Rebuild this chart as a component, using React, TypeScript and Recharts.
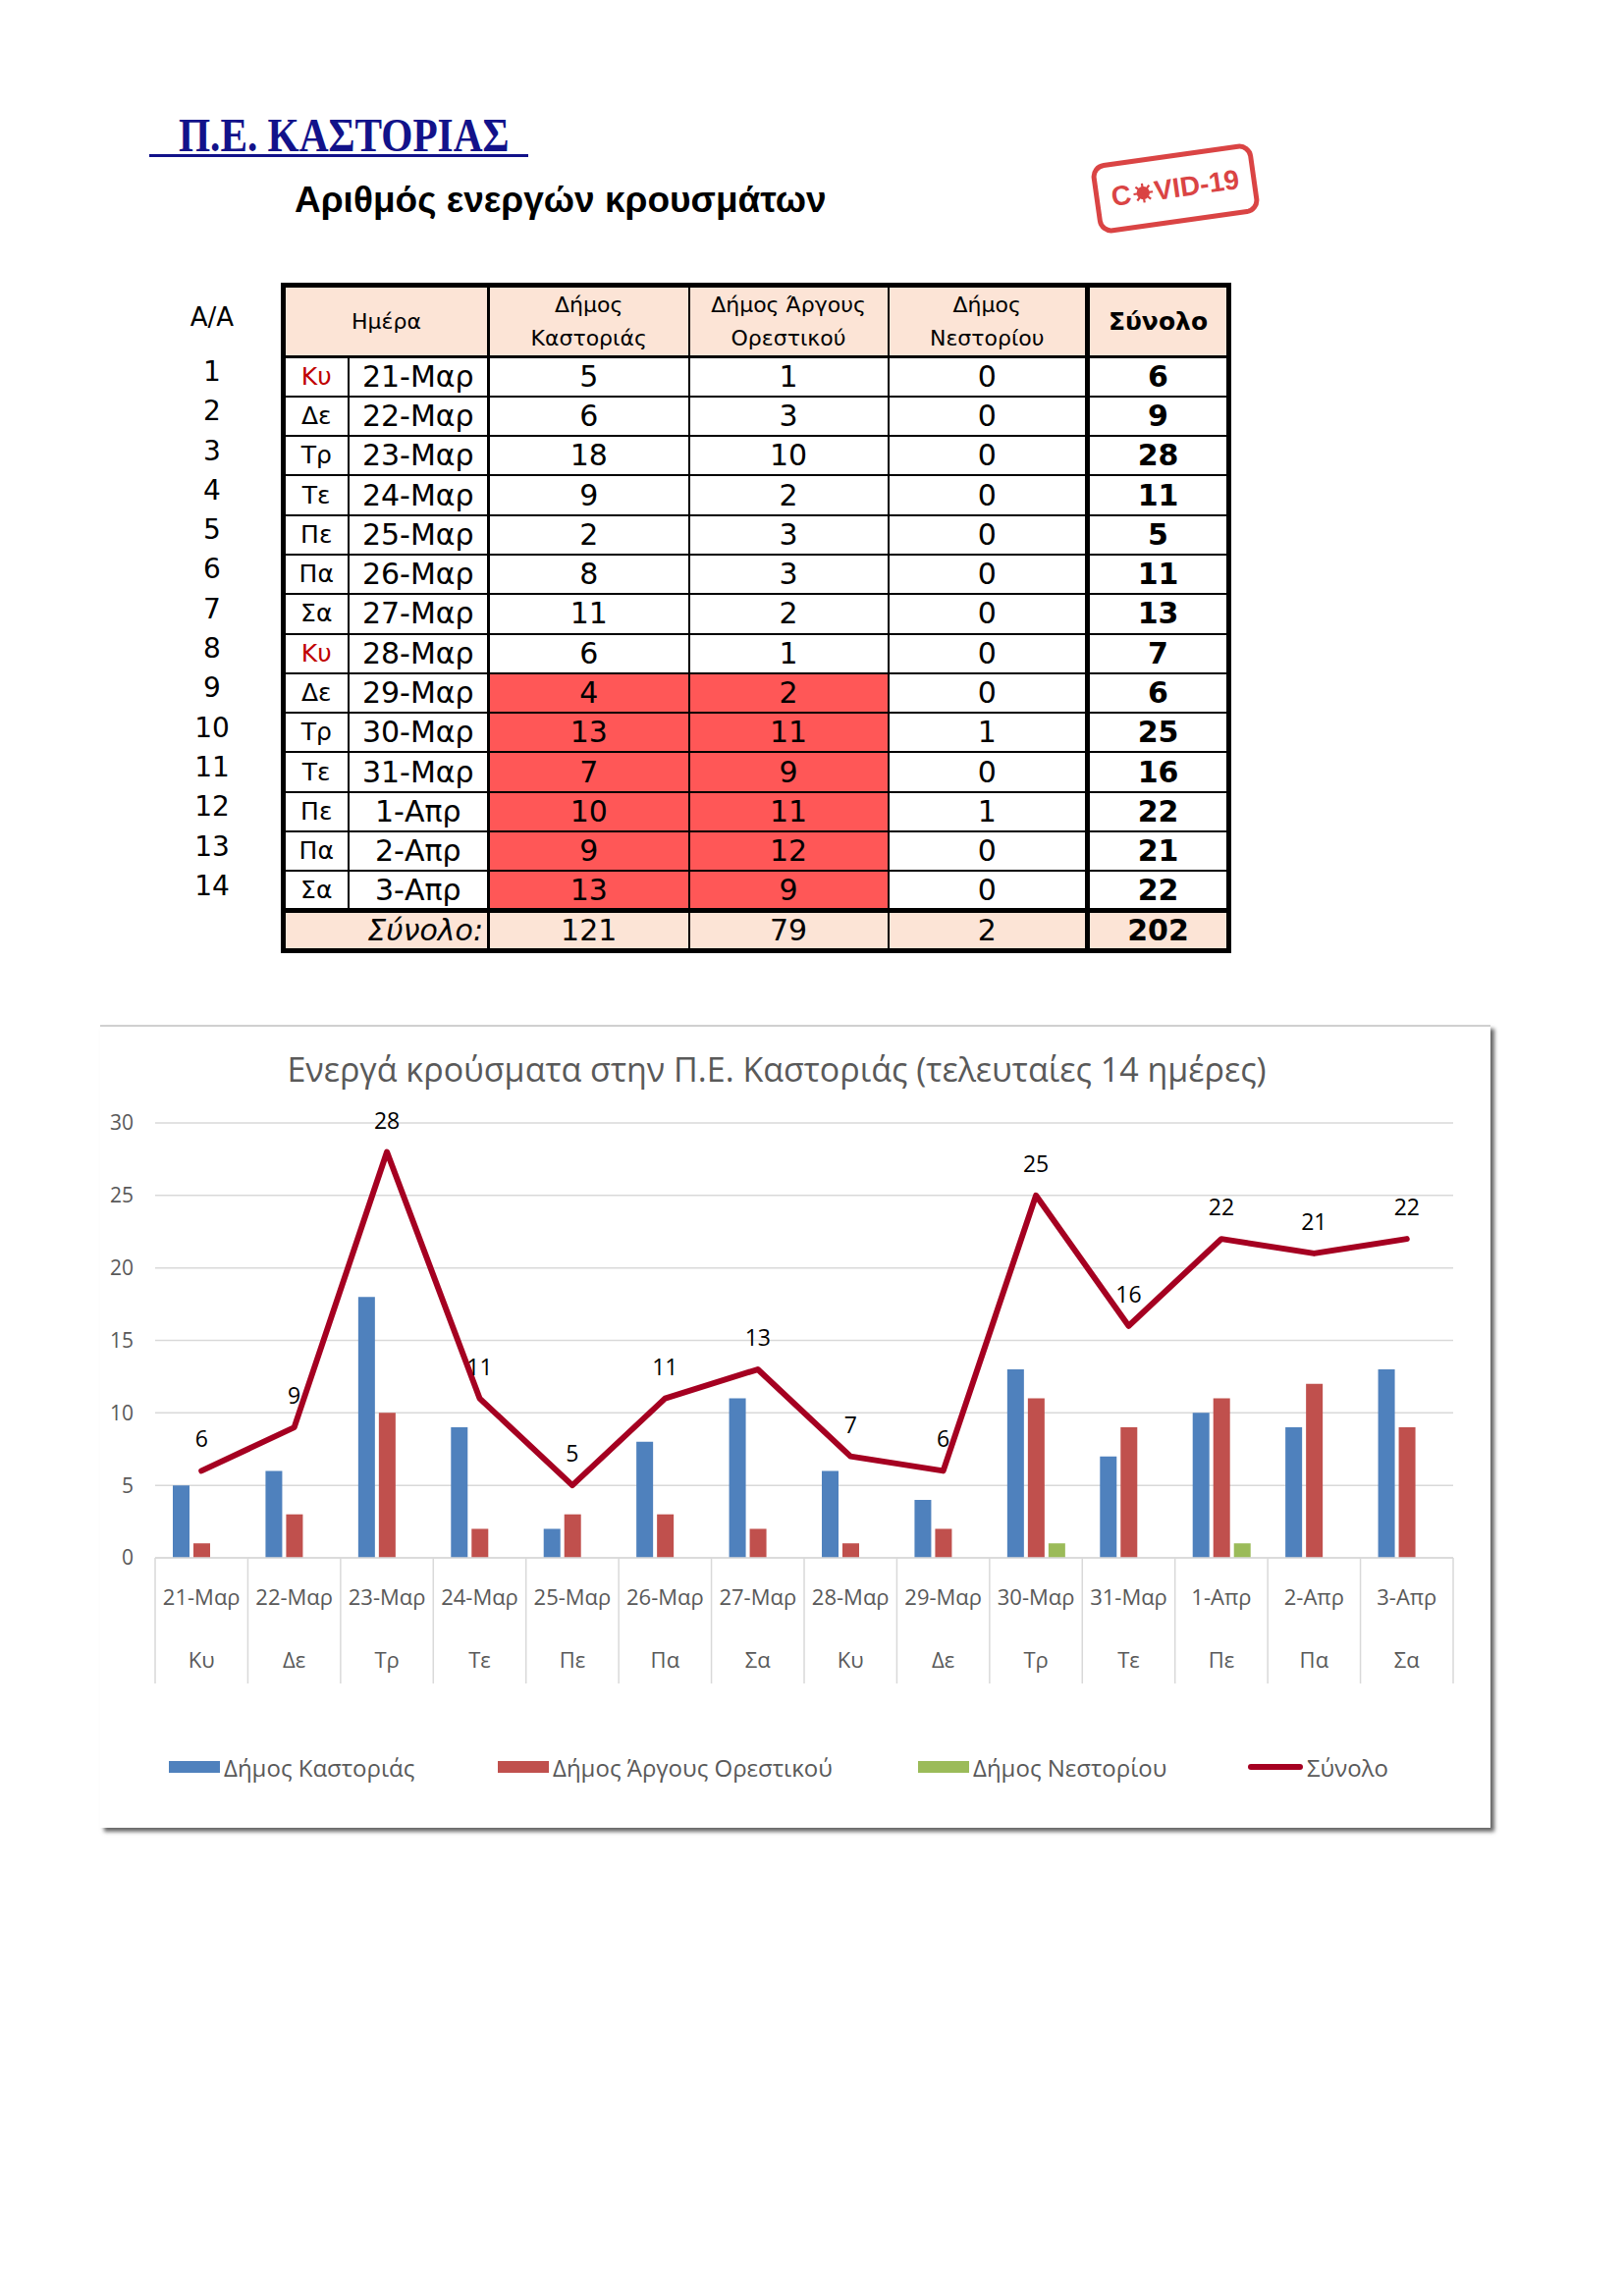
import React from 'react';
import { ComposedChart, Bar, Line, XAxis, YAxis, CartesianGrid, LabelList, Legend } from 'recharts';

const dates = ['21-Μαρ', '22-Μαρ', '23-Μαρ', '24-Μαρ', '25-Μαρ', '26-Μαρ', '27-Μαρ', '28-Μαρ', '29-Μαρ', '30-Μαρ', '31-Μαρ', '1-Απρ', '2-Απρ', '3-Απρ'];
const days = ['Κυ', 'Δε', 'Τρ', 'Τε', 'Πε', 'Πα', 'Σα', 'Κυ', 'Δε', 'Τρ', 'Τε', 'Πε', 'Πα', 'Σα'];
const kastoria = [5, 6, 18, 9, 2, 8, 11, 6, 4, 13, 7, 10, 9, 13];
const argos = [1, 3, 10, 2, 3, 3, 2, 1, 2, 11, 9, 11, 12, 9];
const nestorio = [0, 0, 0, 0, 0, 0, 0, 0, 0, 1, 0, 1, 0, 0];
const totals = [6, 9, 28, 11, 5, 11, 13, 7, 6, 25, 16, 22, 21, 22];
const yTicks = [0, 5, 10, 15, 20, 25, 30];
const seriesNames = ['Δήμος Καστοριάς', 'Δήμος Άργους Ορεστικού', 'Δήμος Νεστορίου', 'Σύνολο'];
const highlightFrom = 8; // rows from 29-Μαρ get the red fill

const BLUE = '#4F81BD';
const RED = '#C0504D';
const GREEN = '#9BBB59';
const LINE = '#A50021';
const GRAY = '#595959';
const GRID = '#D9D9D9';
const PEACH = '#FCE4D6';
const ALERT = '#FF5757';

const sum = (a: number[]) => a.reduce((s, v) => s + v, 0);

const chartData = dates.map((d, i) => ({
  date: d,
  day: days[i],
  kastoria: kastoria[i],
  argos: argos[i],
  nestorio: nestorio[i],
  total: totals[i],
}));

const chartFont = "'Open Sans', 'Noto Sans', sans-serif";
const tableFont = "'DejaVu Sans', Verdana, sans-serif";

const CategoryTick = (props: any) => {
  const { x, y, payload, index, width } = props;
  const half = payload && payload.offset ? payload.offset : width / dates.length / 2;
  const last = index === dates.length - 1;
  return (
    <g>
      <line x1={x - half} y1={y} x2={x - half} y2={y + 128} stroke={GRID} strokeWidth={1.5} />
      {last && <line x1={x + half} y1={y} x2={x + half} y2={y + 128} stroke={GRID} strokeWidth={1.5} />}
      <text x={x} y={y + 48} textAnchor="middle" fill={GRAY} fontSize={22} fontFamily={chartFont}>
        {payload.value}
      </text>
      <text x={x} y={y + 112} textAnchor="middle" fill={GRAY} fontSize={22} fontFamily={chartFont}>
        {days[index]}
      </text>
    </g>
  );
};

const legendLeft = [70, 405, 833, 1169];
const legendColors = [BLUE, RED, GREEN, LINE];

const renderLegend = () => (
  <div style={{ position: 'relative', width: 1416, height: 40, fontFamily: chartFont }}>
    {seriesNames.map((name, i) => (
      <div
        key={name}
        style={{ position: 'absolute', left: legendLeft[i], top: 0, height: 40, display: 'flex', alignItems: 'center' }}
      >
        <span
          style={{
            display: 'inline-block',
            width: i === 3 ? 56 : 52,
            height: i === 3 ? 6 : 12,
            background: legendColors[i],
            borderRadius: i === 3 ? 3 : 0,
          }}
        />
        <span style={{ marginLeft: 4, fontSize: 24, color: GRAY }}>{name}</span>
      </div>
    ))}
  </div>
);

const th: React.CSSProperties = {
  border: '2px solid #000',
  background: PEACH,
  fontWeight: 'normal',
  fontSize: 22,
  lineHeight: '34px',
  padding: 0,
  textAlign: 'center',
};

const td: React.CSSProperties = {
  border: '2px solid #000',
  fontSize: 30,
  padding: 0,
  textAlign: 'center',
  height: 36,
  lineHeight: '36px',
};

const CasesTable = () => (
  <table
    style={{
      position: 'absolute',
      left: 286,
      top: 288,
      width: 963,
      borderCollapse: 'collapse',
      tableLayout: 'fixed',
      border: '5px solid #000',
      fontFamily: tableFont,
      color: '#000',
    }}
  >
    <colgroup>
      <col style={{ width: 66 }} />
      <col style={{ width: 143 }} />
      <col style={{ width: 204 }} />
      <col style={{ width: 203 }} />
      <col style={{ width: 203 }} />
      <col style={{ width: 144 }} />
    </colgroup>
    <thead>
      <tr style={{ height: 73 }}>
        <th colSpan={2} style={{ ...th, borderBottom: '3px solid #000' }}>Ημέρα</th>
        <th style={{ ...th, borderLeft: '3px solid #000', borderBottom: '3px solid #000' }}>Δήμος<br />Καστοριάς</th>
        <th style={{ ...th, borderBottom: '3px solid #000' }}>Δήμος Άργους<br />Ορεστικού</th>
        <th style={{ ...th, borderBottom: '3px solid #000' }}>Δήμος<br />Νεστορίου</th>
        <th style={{ ...th, fontSize: 25, fontWeight: 'bold', borderLeft: '5px solid #000', borderBottom: '3px solid #000' }}>
          Σύνολο
        </th>
      </tr>
    </thead>
    <tbody>
      {dates.map((d, i) => {
        const hot = i >= highlightFrom;
        return (
          <tr key={d} style={{ height: 40.3 }}>
            <td style={{ ...td, fontSize: 25, color: days[i] === 'Κυ' ? '#C00000' : '#000' }}>{days[i]}</td>
            <td style={td}>{d}</td>
            <td style={{ ...td, borderLeft: '3px solid #000', background: hot ? ALERT : '#fff' }}>{kastoria[i]}</td>
            <td style={{ ...td, background: hot ? ALERT : '#fff' }}>{argos[i]}</td>
            <td style={td}>{nestorio[i]}</td>
            <td style={{ ...td, fontWeight: 'bold', borderLeft: '5px solid #000' }}>{totals[i]}</td>
          </tr>
        );
      })}
      <tr style={{ height: 40 }}>
        <td colSpan={2} style={{ ...td, background: PEACH, fontStyle: 'italic', textAlign: 'right', paddingRight: 4, borderTop: '5px solid #000' }}>
          Σύνολο:
        </td>
        <td style={{ ...td, background: PEACH, borderLeft: '3px solid #000', borderTop: '5px solid #000' }}>{sum(kastoria)}</td>
        <td style={{ ...td, background: PEACH, borderTop: '5px solid #000' }}>{sum(argos)}</td>
        <td style={{ ...td, background: PEACH, borderTop: '5px solid #000' }}>{sum(nestorio)}</td>
        <td style={{ ...td, background: PEACH, fontWeight: 'bold', borderLeft: '5px solid #000', borderTop: '5px solid #000' }}>
          {sum(totals)}
        </td>
      </tr>
    </tbody>
  </table>
);

const RowNumbers = () => (
  <div style={{ position: 'absolute', left: 176, top: 288, width: 80, fontFamily: tableFont, textAlign: 'center' }}>
    <div style={{ height: 73, lineHeight: '70px', fontSize: 26 }}>A/A</div>
    {dates.map((d, i) => (
      <div key={d} style={{ height: 40.3, lineHeight: '36px', fontSize: 28 }}>{i + 1}</div>
    ))}
  </div>
);

const CovidStamp = () => (
  <div
    style={{
      position: 'absolute',
      left: 1114,
      top: 156,
      width: 156,
      height: 62,
      border: '5px solid #D63030',
      borderRadius: 14,
      transform: 'rotate(-8deg)',
      display: 'flex',
      alignItems: 'center',
      justifyContent: 'center',
      color: '#D63030',
      fontFamily: "'Liberation Sans', Arial, sans-serif",
      fontWeight: 'bold',
      fontSize: 28,
      opacity: 0.9,
    }}
  >
    <span>C</span>
    <svg width="22" height="22" viewBox="-10 -10 20 20" style={{ margin: '0 1px' }}>
      <circle r="6" fill="#D63030" />
      {[0, 45, 90, 135, 180, 225, 270, 315].map((a) => (
        <line
          key={a}
          x1={0}
          y1={0}
          x2={9 * Math.cos((a * Math.PI) / 180)}
          y2={9 * Math.sin((a * Math.PI) / 180)}
          stroke="#D63030"
          strokeWidth={2}
        />
      ))}
    </svg>
    <span>VID-19</span>
  </div>
);

export default function App() {
  return (
    <div style={{ position: 'absolute', left: 0, top: 0, width: 1654, height: 2339, background: '#fff' }}>
      <div
        style={{
          position: 'absolute',
          left: 182,
          top: 113,
          fontFamily: "'Liberation Serif', 'Times New Roman', serif",
          fontWeight: 'bold',
          fontSize: 48,
          lineHeight: '50px',
          color: '#12128A',
          transform: 'scaleX(0.86)',
          transformOrigin: 'left center',
          whiteSpace: 'nowrap',
        }}
      >
        Π.Ε. ΚΑΣΤΟΡΙΑΣ
      </div>
      <div style={{ position: 'absolute', left: 152, top: 157, width: 386, height: 3, background: '#12128A' }} />
      <div
        style={{
          position: 'absolute',
          left: 300,
          top: 182,
          fontFamily: "'Liberation Sans', Arial, sans-serif",
          fontWeight: 'bold',
          fontSize: 37,
          lineHeight: '44px',
          color: '#000',
          whiteSpace: 'nowrap',
        }}
      >
        Αριθμός ενεργών κρουσμάτων
      </div>
      <CovidStamp />
      <RowNumbers />
      <CasesTable />

      <div
        style={{
          position: 'absolute',
          left: 102,
          top: 1044,
          width: 1416,
          height: 816,
          background: '#fff',
          borderTop: '2px solid #D0D0D0',
          boxShadow: '4px 4px 4px rgba(0,0,0,0.6)',
        }}
      >
        <div
          style={{
            position: 'absolute',
            left: 689,
            top: 20,
            transform: 'translateX(-50%)',
            whiteSpace: 'nowrap',
            fontFamily: chartFont,
            fontSize: 34,
            color: GRAY,
          }}
        >
          Ενεργά κρούσματα στην Π.Ε. Καστοριάς (τελευταίες 14 ημέρες)
        </div>
        <ComposedChart
          width={1416}
          height={816}
          data={chartData}
          margin={{ top: 100, right: 38, left: 6, bottom: 143 }}
          barCategoryGap={18}
          barGap={4}
          style={{ position: 'absolute', left: 0, top: -2 }}
        >
          <CartesianGrid vertical={false} stroke={GRID} strokeWidth={1.5} />
          <XAxis
            dataKey="date"
            height={130}
            interval={0}
            tickSize={0}
            tickMargin={0}
            tickLine={false}
            axisLine={{ stroke: GRID, strokeWidth: 1.5 }}
            tick={<CategoryTick />}
          />
          <YAxis
            width={50}
            domain={[0, 30]}
            ticks={yTicks}
            axisLine={false}
            tickLine={false}
            tickMargin={16}
            tick={{ fill: GRAY, fontSize: 21, fontFamily: chartFont }}
          />
          <Bar dataKey="kastoria" name={seriesNames[0]} fill={BLUE} isAnimationActive={false} />
          <Bar dataKey="argos" name={seriesNames[1]} fill={RED} isAnimationActive={false} />
          <Bar dataKey="nestorio" name={seriesNames[2]} fill={GREEN} isAnimationActive={false} />
          <Line
            dataKey="total"
            name={seriesNames[3]}
            type="linear"
            stroke={LINE}
            strokeWidth={6}
            strokeLinejoin="round"
            strokeLinecap="round"
            dot={false}
            isAnimationActive={false}
          >
            <LabelList dataKey="total" position="top" offset={24} fill="#000" fontSize={23} fontFamily={chartFont} />
          </Line>
          <Legend
            layout="vertical"
            align="center"
            verticalAlign="middle"
            content={renderLegend}
            wrapperStyle={{ top: 736, left: 0, width: 1416, height: 40 }}
          />
        </ComposedChart>
      </div>
    </div>
  );
}
